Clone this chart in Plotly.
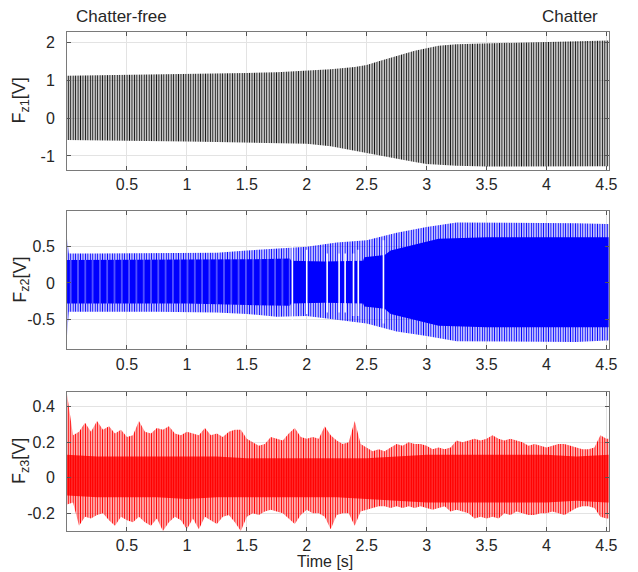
import plotly.graph_objects as go

# ---------------- data ----------------
# time grids [s]
T25 = [0.0, 0.25, 0.5, 0.75, 1.0, 1.25, 1.5, 1.75, 2.0, 2.25, 2.5, 2.75,
       3.0, 3.25, 3.5, 3.75, 4.0, 4.25, 4.5, 4.52]

# Fz1 envelope (upper / lower peaks) [V]
T1 = [0.0, 0.25, 0.5, 0.75, 1.0, 1.25, 1.5, 1.75, 2.0, 2.2, 2.4, 2.5, 2.6, 2.7, 2.8,
      2.9, 3.0, 3.1, 3.25, 3.5, 3.75, 4.0, 4.25, 4.5, 4.52]
FZ1_UP = [1.12, 1.13, 1.14, 1.15, 1.16, 1.17, 1.19, 1.21, 1.25, 1.29, 1.35, 1.40, 1.50, 1.60, 1.70,
          1.78, 1.84, 1.91, 1.95, 1.97, 1.99, 2.01, 2.02, 2.04, 2.05]
FZ1_LO = [-0.58, -0.59, -0.60, -0.61, -0.62, -0.63, -0.65, -0.66, -0.68, -0.74, -0.86, -0.93, -0.99, -1.04, -1.10,
          -1.16, -1.21, -1.24, -1.26, -1.28, -1.28, -1.28, -1.28, -1.27, -1.27]

# Fz2 spike envelope [V]
T2 = [0.0, 0.015, 0.25, 0.5, 0.75, 1.0, 1.25, 1.5, 1.75, 2.0, 2.25, 2.5, 2.75,
      3.0, 3.25, 3.5, 3.75, 4.0, 4.25, 4.5, 4.52]
FZ2_UP = [0.60, 0.40, 0.40, 0.40, 0.40, 0.40, 0.41, 0.44, 0.47, 0.49, 0.55, 0.58, 0.68,
          0.76, 0.82, 0.82, 0.82, 0.82, 0.81, 0.80, 0.80]
FZ2_LO = [-0.72, -0.39, -0.39, -0.39, -0.39, -0.39, -0.40, -0.42, -0.46, -0.45, -0.50, -0.55, -0.66,
          -0.72, -0.79, -0.80, -0.80, -0.80, -0.80, -0.78, -0.78]
# Fz2 dense core [V]
FZ2_CORE_T = [0.0, 0.5, 1.0, 1.5, 1.86, 1.87, 2.15, 2.47, 2.48, 2.65, 2.7, 2.9, 3.1, 3.5, 4.0, 4.52]
FZ2_CORE_UP = [0.31, 0.31, 0.31, 0.32, 0.33, 0.30, 0.29, 0.30, 0.35, 0.38, 0.44, 0.52, 0.60, 0.62, 0.62, 0.62]
FZ2_CORE_LO = [-0.28, -0.28, -0.28, -0.30, -0.31, -0.28, -0.27, -0.28, -0.32, -0.35, -0.42, -0.50, -0.58, -0.60, -0.60, -0.60]
FZ2_CORE_SPLIT = 1.86
# Fz2 visible gaps in the signal
FZ2_GAP_T = [1.88, 2.00, 2.17, 2.27, 2.32, 2.39, 2.43, 2.64]
FZ2_GAP_UP = [0.50, 0.45, 0.40, 0.40, 0.40, 0.40, 0.45, 0.58]
FZ2_GAP_LO = [-0.50, -0.42, -0.40, -0.40, -0.40, -0.45, -0.45, -0.55]

# Fz3 spike envelope [V]
T05 = [0.00, 0.05, 0.10, 0.15, 0.20, 0.25, 0.30, 0.35, 0.40, 0.45,
       0.50, 0.55, 0.60, 0.65, 0.70, 0.75, 0.80, 0.85, 0.90, 0.95,
       1.00, 1.05, 1.10, 1.15, 1.20, 1.25, 1.30, 1.35, 1.40, 1.45,
       1.50, 1.55, 1.60, 1.65, 1.70, 1.75, 1.80, 1.85, 1.90, 1.95,
       2.00, 2.05, 2.10, 2.15, 2.20, 2.25, 2.30, 2.35, 2.40, 2.45,
       2.50, 2.55, 2.60, 2.65, 2.70, 2.75, 2.80, 2.85, 2.90, 2.95,
       3.00, 3.05, 3.10, 3.15, 3.20, 3.25, 3.30, 3.35, 3.40, 3.45,
       3.50, 3.55, 3.60, 3.65, 3.70, 3.75, 3.80, 3.85, 3.90, 3.95,
       4.00, 4.05, 4.10, 4.15, 4.20, 4.25, 4.30, 4.35, 4.40, 4.45,
       4.50, 4.52]
FZ3_UP = [0.47, 0.24, 0.26, 0.31, 0.26, 0.32, 0.27, 0.29, 0.25, 0.27,
          0.23, 0.24, 0.32, 0.26, 0.25, 0.28, 0.27, 0.29, 0.25, 0.24,
          0.26, 0.25, 0.24, 0.28, 0.24, 0.25, 0.23, 0.26, 0.27, 0.27,
          0.22, 0.20, 0.18, 0.19, 0.23, 0.22, 0.21, 0.25, 0.28, 0.23,
          0.22, 0.23, 0.22, 0.29, 0.24, 0.21, 0.19, 0.20, 0.32, 0.19,
          0.17, 0.15, 0.16, 0.15, 0.17, 0.19, 0.18, 0.20, 0.19, 0.19,
          0.18, 0.16, 0.17, 0.16, 0.17, 0.21, 0.20, 0.21, 0.22, 0.21,
          0.22, 0.24, 0.22, 0.21, 0.22, 0.21, 0.20, 0.18, 0.19, 0.18,
          0.17, 0.18, 0.19, 0.19, 0.18, 0.17, 0.16, 0.16, 0.17, 0.24,
          0.22, 0.22]
FZ3_LO = [-0.15, -0.14, -0.27, -0.22, -0.23, -0.21, -0.20, -0.24, -0.27, -0.22,
          -0.24, -0.25, -0.22, -0.25, -0.27, -0.23, -0.30, -0.25, -0.22, -0.24,
          -0.29, -0.23, -0.29, -0.22, -0.24, -0.26, -0.22, -0.21, -0.25, -0.30,
          -0.22, -0.20, -0.21, -0.19, -0.18, -0.19, -0.20, -0.23, -0.26, -0.21,
          -0.18, -0.20, -0.20, -0.22, -0.29, -0.21, -0.20, -0.20, -0.27, -0.19,
          -0.18, -0.17, -0.16, -0.16, -0.17, -0.16, -0.17, -0.16, -0.17, -0.16,
          -0.17, -0.18, -0.17, -0.16, -0.19, -0.18, -0.19, -0.20, -0.23, -0.22,
          -0.23, -0.22, -0.23, -0.20, -0.21, -0.19, -0.20, -0.21, -0.21, -0.20,
          -0.20, -0.19, -0.20, -0.21, -0.19, -0.17, -0.16, -0.16, -0.17, -0.22,
          -0.23, -0.23]
# Fz3 dense core [V]
FZ3_CORE_UP = [0.13, 0.12, 0.12, 0.12, 0.12, 0.12, 0.11, 0.11, 0.11, 0.11, 0.11, 0.12,
               0.13, 0.13, 0.13, 0.13, 0.13, 0.12, 0.13, 0.13]
FZ3_CORE_LO = [-0.10, -0.11, -0.11, -0.11, -0.12, -0.11, -0.11, -0.11, -0.11, -0.11, -0.12, -0.13,
               -0.14, -0.14, -0.14, -0.14, -0.14, -0.13, -0.14, -0.14]

X_TICKS = [0.5, 1, 1.5, 2, 2.5, 3, 3.5, 4, 4.5]
X_LABELS = ["0.5", "1", "1.5", "2", "2.5", "3", "3.5", "4", "4.5"]
Y1_TICKS = [-1, 0, 1, 2]
Y1_LABELS = ["-1", "0", "1", "2"]
Y2_TICKS = [-0.5, 0, 0.5]
Y2_LABELS = ["-0.5", "0", "0.5"]
Y3_TICKS = [-0.2, 0, 0.2, 0.4]
Y3_LABELS = ["-0.2", "0", "0.2", "0.4"]
Y_TITLES = ["F<sub>z1</sub>[V]", "F<sub>z2</sub>[V]", "F<sub>z3</sub>[V]"]

# ---------------- figure ----------------
W, H = 638, 572
FONT = "Arial, 'Liberation Sans', sans-serif"
TXT = "#262626"


def band(xs, up, lo):
    return list(xs) + list(xs)[::-1], list(up) + list(lo)[::-1]


def pattern_band(xs, up, lo, color, size, solidity, xa, ya, bg="rgba(0,0,0,0)"):
    bx, by = band(xs, up, lo)
    return go.Scatter(x=bx, y=by, fill="toself", mode="lines", line=dict(width=0),
                      fillpattern=dict(shape="|", size=size, solidity=solidity,
                                       fgcolor=color, bgcolor=bg, fillmode="replace"),
                      xaxis=xa, yaxis=ya, hoverinfo="skip", showlegend=False)


def solid_band(xs, up, lo, color, xa, ya):
    bx, by = band(xs, up, lo)
    return go.Scatter(x=bx, y=by, fill="toself", mode="lines", line=dict(width=0, color=color),
                      fillcolor=color, xaxis=xa, yaxis=ya, hoverinfo="skip", showlegend=False)


fig = go.Figure()

# Fz1
fig.add_trace(pattern_band(T1, FZ1_UP, FZ1_LO, "#111111", 2.45, 0.5, "x", "y"))

# Fz2
BLUE = "#0000ff"
fig.add_trace(pattern_band(T2, FZ2_UP, FZ2_LO, BLUE, 2.45, 0.5, "x2", "y2"))
early = [i for i, t in enumerate(FZ2_CORE_T) if t <= FZ2_CORE_SPLIT]
late = [i for i, t in enumerate(FZ2_CORE_T) if t >= FZ2_CORE_SPLIT]
fig.add_trace(pattern_band([FZ2_CORE_T[i] for i in early], [FZ2_CORE_UP[i] for i in early],
                           [FZ2_CORE_LO[i] for i in early], "#c8c8ff", 7.3, 0.1, "x2", "y2", bg=BLUE))
fig.add_trace(solid_band([FZ2_CORE_T[i] for i in late], [FZ2_CORE_UP[i] for i in late],
                         [FZ2_CORE_LO[i] for i in late], BLUE, "x2", "y2"))
gx, gy = [], []
for t, u, l in zip(FZ2_GAP_T, FZ2_GAP_UP, FZ2_GAP_LO):
    gx += [t, t, None]
    gy += [l, u, None]
fig.add_trace(go.Scatter(x=gx, y=gy, mode="lines", line=dict(color="white", width=1.6),
                         xaxis="x2", yaxis="y2", hoverinfo="skip", showlegend=False))

# Fz3
RED = "#ff0000"
fig.add_trace(pattern_band(T05, FZ3_UP, FZ3_LO, RED, 2.45, 0.55, "x3", "y3"))
fig.add_trace(pattern_band(T25, FZ3_CORE_UP, FZ3_CORE_LO, RED, 2.45, 0.85, "x3", "y3"))

# layout
L, R = 68 / W, 617.5 / W
DOMS = [(1 - 170 / H, 1 - 31.7 / H), (1 - 349.3 / H, 1 - 210.7 / H), (1 - 531 / H, 1 - 391.7 / H)]
YR = [[-1.37, 2.28], [-0.9, 0.98], [-0.3, 0.485]]
YT = [(Y1_TICKS, Y1_LABELS), (Y2_TICKS, Y2_LABELS), (Y3_TICKS, Y3_LABELS)]

axis_common = dict(showgrid=True, gridcolor="#e3e3e3", gridwidth=1, zeroline=False,
                   showline=True, linecolor="#7a7a7a", linewidth=1, mirror="ticks",
                   ticks="inside", ticklen=4, tickcolor="#555555",
                   tickfont=dict(family=FONT, size=16, color=TXT))

layout = dict(width=W, height=H, margin=dict(l=0, r=0, t=0, b=0),
              paper_bgcolor="white", plot_bgcolor="white", showlegend=False,
              font=dict(family=FONT, size=16, color=TXT))
for k in range(3):
    sx = "" if k == 0 else str(k + 1)
    layout["xaxis" + sx] = dict(axis_common, domain=[L, R], range=[0, 4.52],
                                tickvals=X_TICKS, ticktext=X_LABELS,
                                anchor="y" + sx, ticklabelstandoff=0)
    layout["yaxis" + sx] = dict(axis_common, domain=list(DOMS[k]), range=YR[k],
                                tickvals=YT[k][0], ticktext=YT[k][1],
                                anchor="x" + sx, ticklabelstandoff=8)
fig.update_layout(**layout)

ann = []
for k in range(3):
    ann.append(dict(text=Y_TITLES[k], x=21 / W, y=(DOMS[k][0] + DOMS[k][1]) / 2,
                    xref="paper", yref="paper", textangle=-90, showarrow=False,
                    xanchor="center", yanchor="middle",
                    font=dict(family=FONT, size=18, color=TXT)))
ann.append(dict(text="Chatter-free", x=75 / W, y=1 - 16 / H, xref="paper", yref="paper",
                showarrow=False, xanchor="left", yanchor="middle",
                font=dict(family=FONT, size=17, color=TXT)))
ann.append(dict(text="Chatter", x=609 / W, y=1 - 16 / H, xref="paper", yref="paper",
                showarrow=False, xanchor="right", yanchor="middle",
                font=dict(family=FONT, size=17, color=TXT)))
ann.append(dict(text="Time [s]", x=330 / W, y=1 - 561 / H, xref="paper", yref="paper",
                showarrow=False, xanchor="center", yanchor="middle",
                font=dict(family=FONT, size=16, color=TXT)))
fig.update_layout(annotations=ann)

fig.write_html("out.html")
